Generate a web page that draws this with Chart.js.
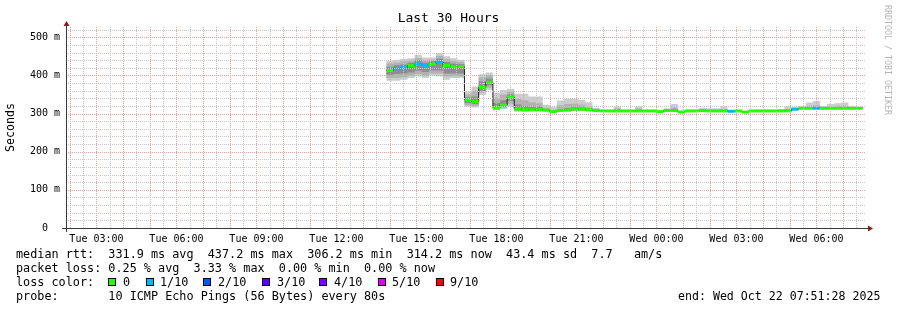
<!DOCTYPE html>
<html><head><meta charset="utf-8">
<script src="https://cdn.jsdelivr.net/npm/chart.js@4.4.0/dist/chart.umd.min.js"></script>
<style>html,body{margin:0;padding:0;background:#fff;}canvas{display:block;}</style>
</head><body>
<canvas id="c" width="897" height="310"></canvas>
<script>
// ---- time axis (hours since Tue 00:00) ----
const windowStart = 1 + 51/60 + 28/3600;   // Tue 01:51:28
const windowEnd = windowStart + 30;         // Wed 07:51:28
const stepStartHour = 13 + 52/60;          // first data step Tue 13:52
const stepHours = 16/60;                   // 16 minute consolidated steps

const xTickHours  = [3, 6, 9, 12, 15, 18, 21, 24, 27, 30];
const xTickLabels = ['Tue 03:00','Tue 06:00','Tue 09:00','Tue 12:00','Tue 15:00','Tue 18:00','Tue 21:00','Wed 00:00','Wed 03:00','Wed 06:00'];
const yTickValues = [0, 100, 200, 300, 400, 500];        // ms
const yTickLabels = ['0', '100 m', '200 m', '300 m', '400 m', '500 m'];
const yMax = 527;

// ---- loss colours ----
const lossLevels = ['0','1/10','2/10','3/10','4/10','5/10','9/10'];
const lossColors = ['#26ff00','#00b8ff','#0059ff','#5e00ff','#7e00ff','#dd00ff','#ff0000'];

// ---- series (ms), one value per 16 min step ----
const median = [413,418,420,426,430,427,430,436,426,422,423,
  336,332,369,382,316,322,343,312,310,310,310,309,305,308,309,312,312,310,308,
  307,307,307,307,307,307,307,307,305,308,308,304,307,307,308,307,307,307,306,307,304,307,307,307,307,307,307,312,314,314,314,314,314,314,314,314,314];
const lossIdx = [0,1,1,0,1,1,0,1,0,0,0,
  0,0,0,0,0,0,0,0,0,0,0,0,0,0,0,0,0,0,0,
  0,0,0,0,0,0,0,0,0,0,0,0,0,0,0,0,0,0,1,0,0,0,0,0,0,0,0,1,0,0,1,0,0,0,0,0,0];
const smokeHi = [438,441,444,445,454,447,447,459,450,445,441,
  358,371,403,408,355,362,365,352,352,345,345,323,318,334,339,339,336,330,315,
  310,309,319,310,309,319,309,309,308,314,325,307,309,309,315,314,314,319,308,309,306,309,309,309,309,312,319,314,320,329,333,320,325,327,329,320,316];
const smokeLo = [386,386,389,393,397,393,400,397,389,393,393,
  318,316,349,362,308,312,318,305,305,306,306,306,303,306,306,306,306,306,306,
  305,305,305,305,305,305,305,305,304,305,305,303,305,305,305,305,305,305,304,305,303,305,305,305,305,305,305,307,311,311,311,311,311,311,311,311,312];
const innerHi = [431,434,437,440,446,441,442,451,443,438,436,
  350,360,395,400,340,350,358,338,335,330,328,315,310,322,325,326,323,318,311,
  308,308,313,308,308,313,308,308,306,310,316,305,308,308,310,309,309,312,307,308,305,308,308,308,308,309,312,313,316,320,322,316,318,319,320,316,315];
const innerLo = [393,394,395,400,404,400,405,405,397,398,398,
  322,320,355,368,310,315,325,307,307,307,307,307,304,307,307,308,308,307,307,
  306,306,306,306,306,306,306,306,304,306,306,303,306,306,306,306,306,306,305,306,303,306,306,306,306,306,306,310,312,312,312,312,312,312,312,312,313];
const coreHi = [423,427,429,433,440,434,437,444,435,431,430,
  343,345,385,392,328,335,350,324,320,318,318,311,307,312,314,318,316,313,309,
  307,307,307,307,307,307,307,307,305,308,308,304,307,307,308,307,307,307,306,307,304,307,307,307,307,307,307,312,314,314,314,314,314,314,314,314,314];
const coreLo = [402,404,405,408,412,409,413,413,405,405,405,
  328,325,360,374,312,318,333,309,308,308,308,307,304,307,307,309,309,308,307,
  307,307,307,307,307,307,307,307,305,308,308,304,307,307,308,307,307,307,306,307,304,307,307,307,307,307,307,312,314,314,314,314,314,314,314,314,314];

// ---- build datasets ----
const stepTime = i => stepStartHour + i * stepHours;
function stepPoints(arr) {
  const pts = arr.map((v, i) => ({x: stepTime(i), y: v}));
  pts.push({x: stepTime(arr.length), y: arr[arr.length - 1]});
  return pts;
}
function bandPoints(arr) {
  const pts = [];
  arr.forEach((v, i) => { pts.push({x: stepTime(i), y: v}, {x: stepTime(i + 1), y: v}, {x: stepTime(i + 1), y: null}); });
  return pts;
}
const smokeOuter = '#cdcdcd', smokeMid = '#b2b2b2', smokeCore = '#8e8e8e';
function area(label, data, fill, color, order) {
  return {label, data, stepped: true, fill, backgroundColor: color, borderColor: 'transparent',
          borderWidth: 0, pointRadius: 0, order};
}
const datasets = [
  area('smoke max', stepPoints(smokeHi), '+1', smokeOuter, 10),
  area('smoke min', stepPoints(smokeLo), false, 'transparent', 10),
  area('smoke inner hi', stepPoints(innerHi), '+1', smokeMid, 9),
  area('smoke inner lo', stepPoints(innerLo), false, 'transparent', 9),
  area('smoke core hi', stepPoints(coreHi), '+1', smokeCore, 8),
  area('smoke core lo', stepPoints(coreLo), false, 'transparent', 8),
  {label: 'median', data: stepPoints(median), stepped: true, fill: false, borderColor: '#202020',
   borderWidth: 1, pointRadius: 0, order: 7},
  {label: 'median loss colour', data: bandPoints(median), fill: false, borderColor: lossColors[0],
   borderWidth: 3, pointRadius: 0, spanGaps: false, order: 6, borderCapStyle: 'butt',
   segment: {borderColor: c => lossColors[lossIdx[Math.floor(c.p0DataIndex / 3)]]}}
];

// grid positions: 30 min (minor) / 1 h (major) ; 20 ms (minor) / 100 ms (major)
const xGrid = [];
for (let h = Math.ceil(windowStart * 2) / 2; h <= windowEnd + 1e-9; h += 0.5) xGrid.push(h);
const yGrid = [];
for (let v = 0; v <= yMax; v += 20) yGrid.push(v);

const MONO = '"DejaVu Sans Mono", monospace';
const gridMinor = '#c6c6c6', gridMajor = '#f29a9a';
const axisColor = '#3a3a3a', arrowColor = '#7f1f1f';
const xGridColors = xGrid.map(h => (Math.abs(h - Math.round(h)) < 1e-6 ? gridMajor : gridMinor));
const yGridColors = yGrid.map(v => (v % 100 === 0 ? gridMajor : gridMinor));

// dotted rrdtool-style grid, drawn over the data from the library's scales
const rrdGrid = {
  id: 'rrdGrid',
  afterDatasetsDraw(chart) {
    const c = chart.ctx, a = chart.chartArea, xs = chart.scales.x, ys = chart.scales.y;
    c.save();
    xGrid.forEach((h, i) => {
      const px = Math.round(xs.getPixelForValue(h));
      if (px <= a.left || px >= a.right) return;
      c.fillStyle = xGridColors[i];
      for (let y = a.bottom - 1; y >= a.top; y -= 2) c.fillRect(px, y, 1, 1);
    });
    yGrid.forEach((v, i) => {
      if (v === 0) return;
      const py = Math.round(ys.getPixelForValue(v));
      c.fillStyle = yGridColors[i];
      for (let x = a.left + 2; x < a.right; x += 2) c.fillRect(x, py, 1, 1);
    });
    c.restore();
  }
};

const decor = {
  id: 'decor',
  beforeDraw(chart) {
    const c = chart.ctx; c.save(); c.fillStyle = '#fff'; c.fillRect(0, 0, chart.width, chart.height); c.restore();
  },
  afterDraw(chart) {
    const c = chart.ctx, a = chart.chartArea;
    c.save();
    c.strokeStyle = axisColor; c.lineWidth = 1;
    c.beginPath(); c.moveTo(a.left - 4, a.bottom + 0.5); c.lineTo(a.right + 3, a.bottom + 0.5); c.stroke();
    c.beginPath(); c.moveTo(a.left + 0.5, a.bottom + 4); c.lineTo(a.left + 0.5, a.top - 3); c.stroke();
    c.fillStyle = arrowColor;
    c.beginPath(); c.moveTo(a.left + 0.5, a.top - 6); c.lineTo(a.left - 2.5, a.top - 1); c.lineTo(a.left + 3.5, a.top - 1); c.closePath(); c.fill();
    c.beginPath(); c.moveTo(a.right + 7, a.bottom + 0.5); c.lineTo(a.right + 2, a.bottom - 2.5); c.lineTo(a.right + 2, a.bottom + 3.5); c.closePath(); c.fill();

    c.fillStyle = '#000'; c.textBaseline = 'middle';
    c.font = '13px ' + MONO; c.textAlign = 'center';
    c.fillText('Last 30 Hours', 448.5, 19);

    c.save(); c.translate(11, 127.5); c.rotate(-Math.PI / 2);
    c.font = '11.6px ' + MONO; c.fillText('Seconds', 0, 0); c.restore();

    c.save(); c.translate(887, 5); c.rotate(Math.PI / 2);
    c.font = '8.3px ' + MONO; c.textAlign = 'left'; c.fillStyle = '#b4b4b4';
    c.fillText('RRDTOOL / TOBI OETIKER', 0, 0); c.restore();

    c.font = '11.8px ' + MONO; c.textAlign = 'left'; c.fillStyle = '#000';
    c.fillText('median rtt:  331.9 ms avg  437.2 ms max  306.2 ms min  314.2 ms now  43.4 ms sd  7.7   am/s', 16, 254.5);
    c.fillText('packet loss: 0.25 % avg  3.33 % max  0.00 % min  0.00 % now', 16, 268.5);
    c.fillText('loss color:', 16, 282.5);
    const boxX = [108, 146, 203, 262, 319, 378, 436];
    const lblX = [123, 160, 218, 277, 334, 392, 450];
    lossLevels.forEach((l, i) => {
      c.fillStyle = lossColors[i]; c.fillRect(boxX[i], 278, 8, 8);
      c.strokeStyle = '#000'; c.strokeRect(boxX[i] + 0.5, 278.5, 7, 7);
      c.fillStyle = '#000'; c.fillText(l, lblX[i], 282.5);
    });
    c.fillText('probe:       10 ICMP Echo Pings (56 Bytes) every 80s', 16, 296.5);
    c.font = '11.6px ' + MONO;
    c.fillText('end: Wed Oct 22 07:51:28 2025', 678, 296.5);
    c.restore();
  }
};

new Chart(document.getElementById('c'), {
  type: 'line',
  data: {datasets},
  options: {
    responsive: false, animation: false, devicePixelRatio: 1,
    layout: {padding: {left: 0, top: 27, right: 31, bottom: 0}},
    plugins: {legend: {display: false}, tooltip: {enabled: false}, title: {display: false}},
    scales: {
      x: {
        type: 'linear', min: windowStart, max: windowEnd,
        afterFit(s) { s.height = 82; },
        afterBuildTicks(s) { s.ticks = xTickHours.map(v => ({value: v})); },
        ticks: {autoSkip: false, maxRotation: 0, minRotation: 0, padding: 5, color: '#000',
          font: {family: MONO, size: 10},
          callback: v => { const i = xTickHours.findIndex(h => Math.abs(h - v) < 1e-6); return i >= 0 ? xTickLabels[i] : ''; }},
        grid: {display: false, drawTicks: false},
        border: {display: false}
      },
      y: {
        type: 'linear', min: 0, max: yMax,
        afterFit(s) { s.width = 66; },
        afterBuildTicks(s) { s.ticks = yTickValues.map(v => ({value: v})); },
        ticks: {autoSkip: false, padding: 6, color: '#000', font: {family: MONO, size: 10},
          callback: v => { const i = yTickValues.indexOf(v); if (i < 0) return ''; const l = yTickLabels[i]; return l.indexOf(' ') < 0 ? l + '  ' : l; }},
        grid: {display: false, drawTicks: false},
        border: {display: false}
      }
    }
  },
  plugins: [rrdGrid, decor]
});
</script>
</body></html>
